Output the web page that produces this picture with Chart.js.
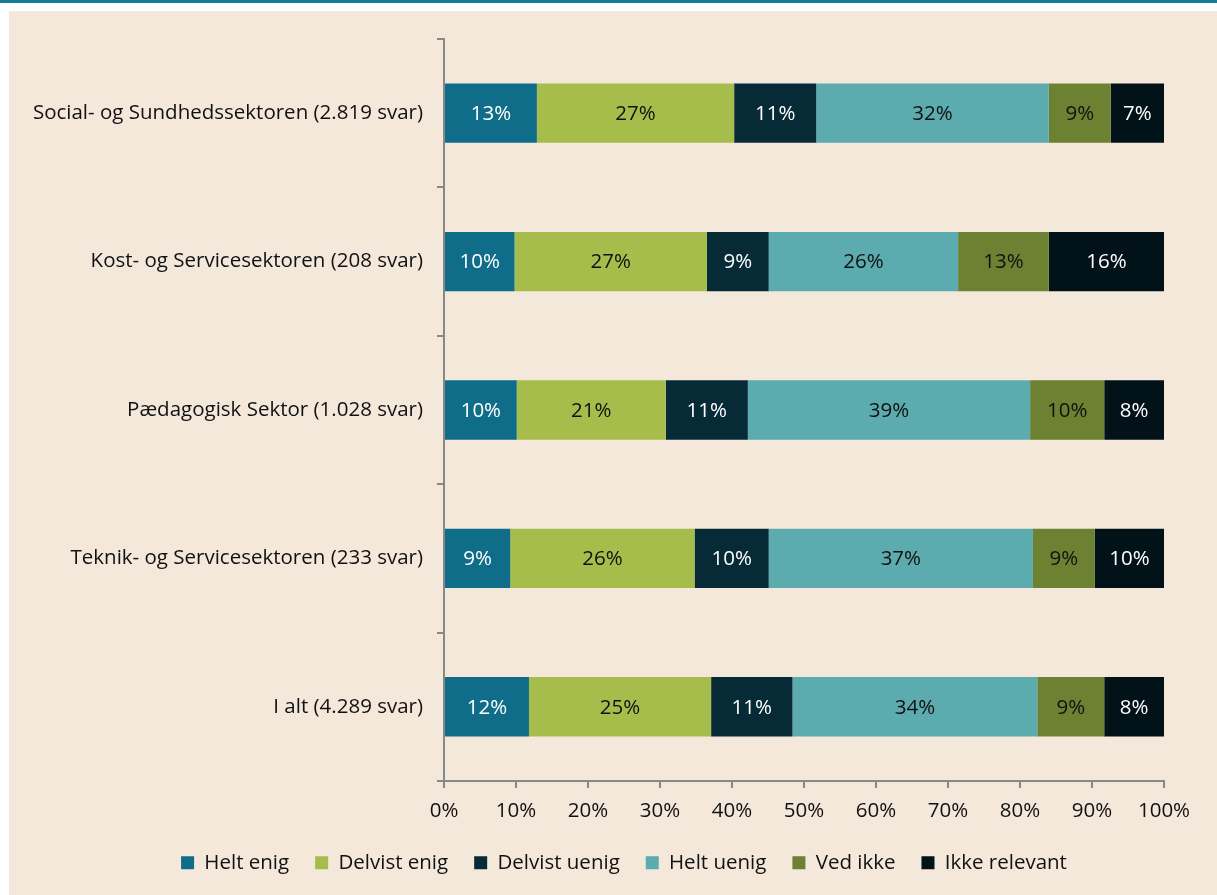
<!DOCTYPE html>
<html lang="da">
<head>
<meta charset="utf-8">
<script src="https://cdn.jsdelivr.net/npm/chart.js@4.4.1/dist/chart.umd.min.js"></script>
<style>
  html, body { margin: 0; padding: 0; background: #fff; }
  #topline { position: absolute; left: 0; top: 0; width: 1217px; height: 3px; background: #177d96; }
  #panel { position: absolute; left: 9px; top: 11px; width: 1208px; height: 884px; background: #f4e8db; }
  #chart { display: block; }
</style>
</head>
<body>
<div id="topline"></div>
<div id="panel"><canvas id="chart" width="1208" height="884"></canvas></div>
<script>
// ===== DATA =====
const categories = [
  'Social- og Sundhedssektoren (2.819 svar)',
  'Kost- og Servicesektoren (208 svar)',
  'Pædagogisk Sektor (1.028 svar)',
  'Teknik- og Servicesektoren (233 svar)',
  'I alt (4.289 svar)'
];
const seriesNames = ['Helt enig', 'Delvist enig', 'Delvist uenig', 'Helt uenig', 'Ved ikke', 'Ikke relevant'];
const heltEnig     = [12.9,  9.8, 10.1,  9.2, 11.8];
const delvistEnig  = [27.4, 26.7, 20.7, 25.6, 25.3];
const delvistUenig = [11.4,  8.6, 11.4, 10.3, 11.3];
const heltUenig    = [32.3, 26.3, 39.2, 36.7, 34.0];
const vedIkke      = [ 8.6, 12.6, 10.3,  8.6,  9.3];
const ikkeRelevant = [ 7.4, 16.0,  8.3,  9.6,  8.3];
const xTicks = [0, 10, 20, 30, 40, 50, 60, 70, 80, 90, 100];

const colors = ['#0f6d89', '#a7bd4b', '#062b37', '#5babaf', '#6d8132', '#021219'];
const labelColors = ['#fff', '#111', '#fff', '#111', '#111', '#fff'];
const FONT = "'Open Sans', sans-serif";
const FS = 20.5;

// labels inside the bars
const barLabels = {
  id: 'barLabels',
  afterDatasetsDraw(chart) {
    const ctx = chart.ctx;
    ctx.save();
    ctx.font = FS + 'px ' + FONT;
    ctx.textAlign = 'center';
    ctx.textBaseline = 'middle';
    chart.data.datasets.forEach((ds, i) => {
      chart.getDatasetMeta(i).data.forEach((bar, j) => {
        const cx = (bar.x + bar.base) / 2;
        ctx.fillStyle = labelColors[i];
        ctx.fillText(Math.round(ds.data[j]) + '%', cx, bar.y + 1);
      });
    });
    ctx.restore();
  }
};

const allSeries = [heltEnig, delvistEnig, delvistUenig, heltUenig, vedIkke, ikkeRelevant];

new Chart(document.getElementById('chart'), {
  type: 'bar',
  data: {
    labels: categories,
    datasets: allSeries.map((d, i) => ({
      label: seriesNames[i],
      data: d,
      backgroundColor: colors[i],
      borderWidth: 0,
      barPercentage: 0.4,
      categoryPercentage: 1
    }))
  },
  options: {
    indexAxis: 'y',
    responsive: false,
    animation: false,
    layout: { padding: { top: 28, right: 0, left: 22, bottom: 12 } },
    scales: {
      x: {
        stacked: true,
        min: 0, max: 100,
        afterBuildTicks: s => { s.ticks = xTicks.map(v => ({ value: v })); },
        afterFit: s => { s.height -= 8; },
        border: { color: '#888', width: 2 },
        grid: { drawOnChartArea: false, drawTicks: true, tickLength: 7, color: '#888', lineWidth: 2 },
        ticks: { color: '#111', font: { family: FONT, size: FS }, padding: 11, callback: v => v + '%' }
      },
      y: {
        stacked: true,
        afterFit: s => { s.width = 413; },
        border: { color: '#888', width: 2 },
        grid: { offset: true, drawOnChartArea: false, drawTicks: true, tickLength: 7, color: '#888', lineWidth: 2 },
        ticks: { color: '#111', font: { family: FONT, size: FS }, padding: 14 }
      },
      // empty spacer on the right so the legend stays centred on the panel
      spacer: {
        type: 'linear',
        position: 'right',
        afterFit: s => { s.width = 53; },
        border: { display: false },
        grid: { display: false },
        ticks: { display: false }
      }
    },
    plugins: {
      legend: {
        position: 'bottom',
        labels: { color: '#111', font: { family: FONT, size: FS }, boxWidth: 13, boxHeight: 13, padding: 26 }
      },
      tooltip: { enabled: false }
    }
  },
  plugins: [barLabels]
});
</script>
</body>
</html>
